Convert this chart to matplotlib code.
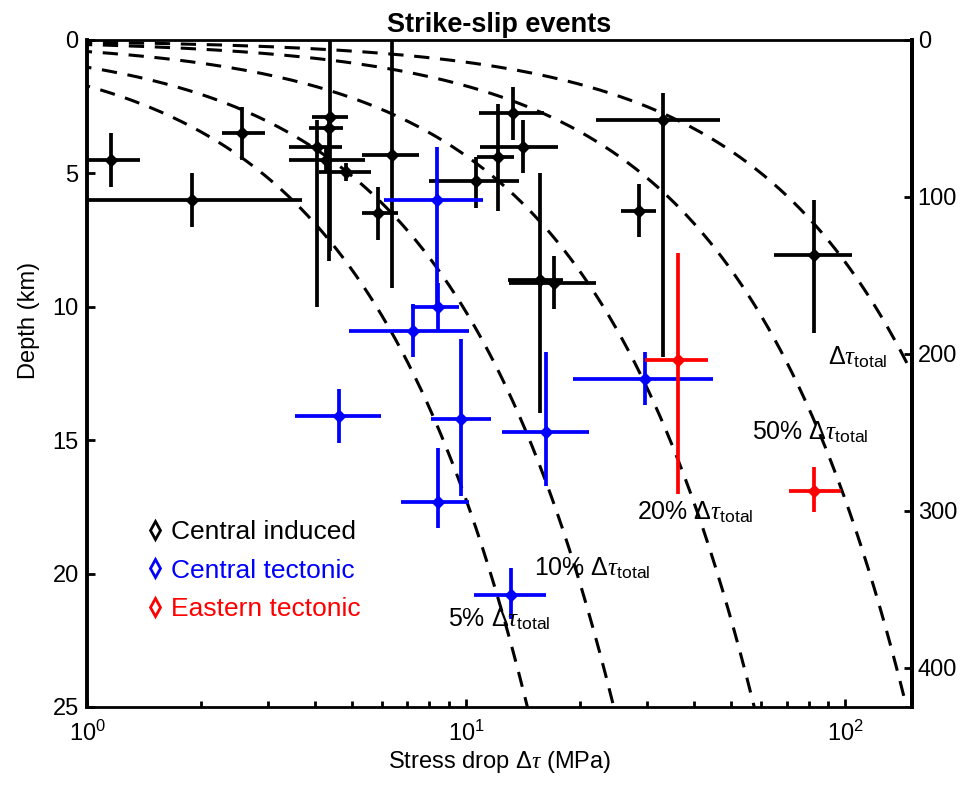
import numpy as np
import matplotlib.pyplot as plt
from matplotlib.lines import Line2D

plt.rcParams['font.family'] = ['Liberation Sans', 'DejaVu Sans']
plt.rcParams['mathtext.fontset'] = 'custom'
plt.rcParams['mathtext.rm'] = 'Liberation Sans'
plt.rcParams['mathtext.it'] = 'Liberation Serif:italic'
plt.rcParams['mathtext.bf'] = 'Liberation Sans:bold'

# Central induced (black)
ci_stress = [1.16, 1.89, 2.57, 4.03, 4.36, 4.34, 4.28, 4.83, 6.36, 5.87, 10.6, 12.1, 13.3, 14.1, 15.7, 17.0, 33.0, 28.6, 82.6]
ci_depth = [4.5, 6.0, 3.5, 4.0, 2.9, 3.3, 4.5, 4.95, 4.3, 6.5, 5.3, 4.4, 2.75, 4.0, 9.0, 9.1, 3.0, 6.4, 8.05]
ci_stress_lo = [1.0, 1.0, 2.27, 3.4, 3.93, 3.84, 3.4, 4.08, 5.3, 5.3, 8.0, 10.7, 10.8, 10.9, 12.9, 13.0, 22.0, 25.6, 64.8]
ci_stress_hi = [1.38, 3.7, 2.94, 4.7, 4.89, 4.74, 5.4, 5.62, 7.5, 6.6, 13.8, 13.4, 16.0, 17.5, 18.0, 22.0, 46.8, 31.6, 104]
ci_depth_lo = [3.5, 5.0, 2.5, 3.0, 0.0, 2.9, 4.0, 4.6, 0.0, 5.5, 4.4, 2.4, 1.75, 3.0, 5.0, 8.1, 2.0, 5.4, 6.0]
ci_depth_hi = [5.5, 7.0, 4.5, 10.0, 7.9, 8.3, 5.0, 5.3, 9.3, 7.5, 6.3, 6.4, 3.75, 5.0, 14.0, 10.1, 11.9, 7.4, 11.0]

# Central tectonic (blue)
ct_stress = [8.35, 8.43, 7.25, 4.63, 9.7, 8.43, 16.2, 13.1, 29.7]
ct_depth = [6.0, 10.0, 10.9, 14.1, 14.2, 17.3, 14.7, 20.8, 12.7]
ct_stress_lo = [6.08, 7.15, 4.9, 3.53, 8.1, 6.75, 12.4, 10.5, 19.1]
ct_stress_hi = [11.1, 9.6, 10.2, 5.97, 11.6, 10.2, 21.1, 16.2, 44.7]
ct_depth_lo = [4.0, 9.1, 9.9, 13.1, 11.2, 15.3, 11.7, 19.8, 11.7]
ct_depth_hi = [10.0, 10.9, 11.9, 15.1, 17.1, 18.3, 16.7, 21.7, 13.7]

# Eastern tectonic (red)
et_stress = [36.2, 82.9]
et_depth = [12.0, 16.9]
et_stress_lo = [29.7, 70.9]
et_stress_hi = [43.4, 97.3]
et_depth_lo = [8.0, 16.0]
et_depth_hi = [17.0, 17.7]

# fraction-of-total stress curves (slope in MPa per km of depth)
curve_pct = ['5% ', '10% ', '20% ', '50% ', '']
curve_slope = [0.58, 0.98, 2.3, 5.8, 12.0]
curve_label_x = [8.96, 15.1, 28.3, 56.8, 90.2]
curve_label_depth = [21.7, 19.8, 17.7, 14.7, 11.9]

groups = [
    ('Central induced', 'black', ci_stress, ci_depth, ci_stress_lo, ci_stress_hi, ci_depth_lo, ci_depth_hi),
    ('Central tectonic', 'blue', ct_stress, ct_depth, ct_stress_lo, ct_stress_hi, ct_depth_lo, ct_depth_hi),
    ('Eastern tectonic', 'red', et_stress, et_depth, et_stress_lo, et_stress_hi, et_depth_lo, et_depth_hi),
]

fig = plt.figure(figsize=(9.65, 7.85), dpi=100)
ax = fig.add_axes([0.0902, 0.0994, 0.855, 0.8497])

# dashed curves
z = np.linspace(0.001, 25, 400)
for s in curve_slope:
    ax.plot(s * z, z, color='black', linestyle=(0, (5, 3.5)), linewidth=2.2, zorder=1)

for name, col, x, d, xlo, xhi, dlo, dhi in groups:
    x = np.array(x); d = np.array(d)
    xerr = [x - np.array(xlo), np.array(xhi) - x]
    yerr = [d - np.array(dlo), np.array(dhi) - d]
    ax.errorbar(x, d, xerr=xerr, yerr=yerr, fmt='D', color=col, ms=6,
                elinewidth=2.7, capsize=0, zorder=3)

for pct, lx, ld in zip(curve_pct, curve_label_x, curve_label_depth):
    ax.text(lx, ld, pct + r'$\Delta\tau_{\mathrm{total}}$', fontsize=18,
            ha='left', va='center', zorder=4)

ax.set_xscale('log')
ax.set_xlim(1, 150)
ax.set_ylim(25, 0)
ax.set_yticks([0, 5, 10, 15, 20, 25])
ax.tick_params(axis='both', which='major', direction='in', length=6, width=2, labelsize=17)
ax.tick_params(axis='x', which='minor', direction='in', length=4, width=2)
ax.tick_params(axis='x', which='both', top=False, pad=10)
ax.tick_params(axis='y', pad=6)
for side in ['left', 'right']:
    ax.spines[side].set_linewidth(2.8)
for side in ['top', 'bottom']:
    ax.spines[side].set_linewidth(2.0)

ax.set_xlabel(r'Stress drop $\Delta\tau$ (MPa)', fontsize=17, labelpad=2)
ax.set_ylabel('Depth (km)', fontsize=17)
ax.yaxis.set_label_coords(-0.057, 0.58)
ax.set_title('Strike-slip events', fontsize=19.5, fontweight='bold', pad=6)

ax2 = ax.twinx()
ax2.set_ylim(425, 0)
ax2.set_yticks([0, 100, 200, 300, 400])
ax2.tick_params(axis='y', direction='in', length=6, width=2, labelsize=17, pad=4)
ax2.spines['right'].set_linewidth(2.8)
for side in ['left', 'top', 'bottom']:
    ax2.spines[side].set_visible(False)

handles = [Line2D([], [], marker='d', linestyle='none', markerfacecolor='none',
                  markeredgecolor=g[1], markeredgewidth=2, ms=9) for g in groups]
leg = ax.legend(handles, [g[0] for g in groups], loc='upper left',
                bbox_to_anchor=(0.05, 0.3), frameon=False, fontsize=19,
                handletextpad=0.1, handlelength=1.0, labelspacing=0.55,
                labelcolor=[g[1] for g in groups], borderpad=0)

fig.savefig('out.png', dpi=100)
